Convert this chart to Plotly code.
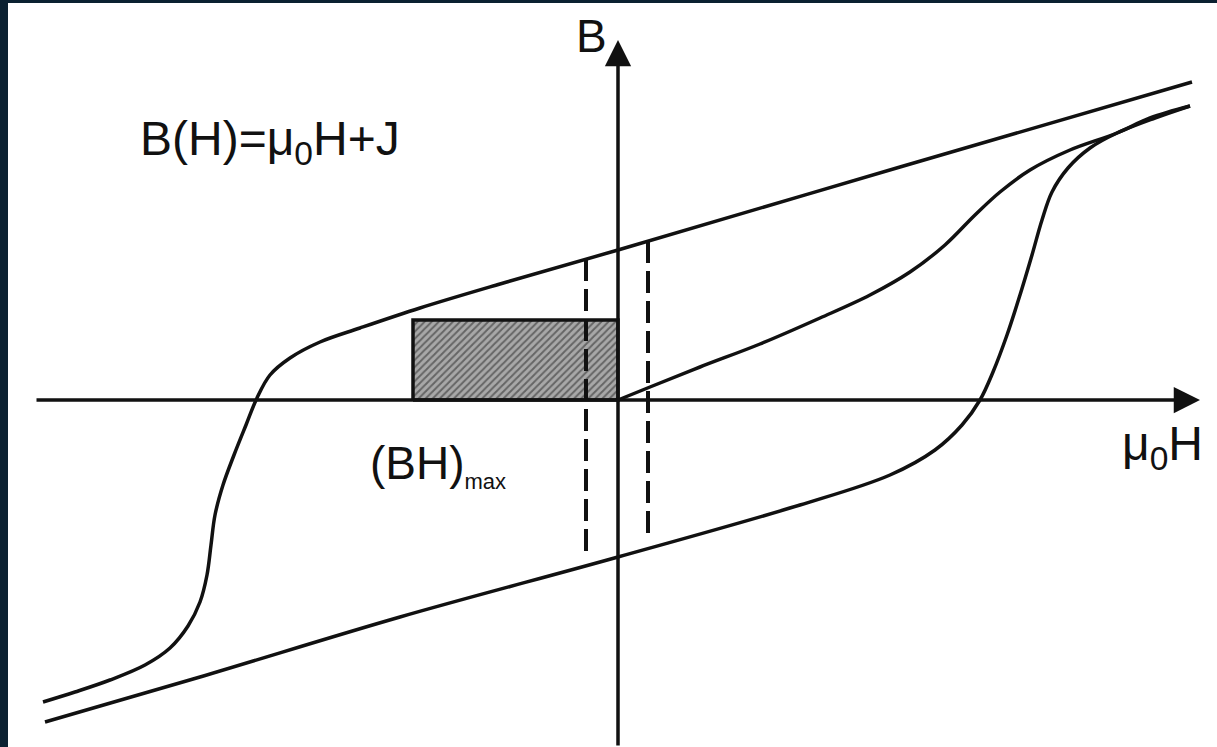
import plotly.graph_objects as go

# units: mu0*H along x, B along y (arbitrary units, origin at axis crossing)
upper_h = [5.74, 2.82, 0.0, -1.18, -1.98, -2.58, -2.98, -3.28, -3.48, -3.61, -3.72, -3.84,
           -3.95, -4.03, -4.07, -4.11, -4.18, -4.30, -4.48, -4.73, -5.08, -5.43, -5.75]
upper_b = [3.18, 2.33, 1.50, 1.16, 0.92, 0.72, 0.58, 0.42, 0.25, 0.02, -0.25, -0.55,
           -0.85, -1.15, -1.45, -1.75, -2.02, -2.26, -2.48, -2.65, -2.80, -2.92, -3.02]

lower_h = [-5.73, -4.18, -2.18, 0.0, 1.82, 2.72, 3.17, 3.44, 3.62, 3.75, 3.89,
           4.02, 4.14, 4.24, 4.34, 4.50, 4.72, 4.99, 5.37, 5.72]
lower_b = [-3.22, -2.77, -2.17, -1.57, -1.05, -0.75, -0.50, -0.25, 0.0, 0.28, 0.65,
           1.05, 1.45, 1.80, 2.08, 2.32, 2.52, 2.67, 2.82, 2.94]

virgin_h = [0.0, 0.32, 0.82, 1.42, 2.02, 2.52, 2.92, 3.27, 3.57, 3.82, 4.12, 4.52, 4.99, 5.32, 5.72]
virgin_b = [0.0, 0.13, 0.33, 0.56, 0.82, 1.05, 1.28, 1.55, 1.85, 2.08, 2.30, 2.50, 2.67, 2.82, 2.94]

# (BH)max working rectangle
rect_h = [-2.05, 0.0]
rect_b = [0.0, 0.80]

# dashed guide lines
dash_left_h, dash_left_b = -0.32, [1.41, -1.55]
dash_right_h, dash_right_b = 0.30, [1.59, -1.35]

x_axis_span = [-5.83, 5.82]
y_axis_span = [-3.47, 3.60]

ink = '#111111'
font = 'Liberation Sans, Arial, sans-serif'

fig = go.Figure()

# hatched rectangle
fig.add_trace(go.Scatter(
    x=[rect_h[0], rect_h[1], rect_h[1], rect_h[0], rect_h[0]],
    y=[rect_b[0], rect_b[0], rect_b[1], rect_b[1], rect_b[0]],
    mode='lines', fill='toself',
    fillcolor='#a0a0a0',
    fillpattern=dict(shape='/', fgcolor='#222222', bgcolor='#a8a8a8', size=5, solidity=0.4),
    line=dict(color=ink, width=3.5)
))

for hh, bb in [(upper_h, upper_b), (lower_h, lower_b), (virgin_h, virgin_b)]:
    fig.add_trace(go.Scatter(
        x=hh, y=bb, mode='lines',
        line=dict(color=ink, width=3.5, shape='spline', smoothing=1.0)
    ))

for xh, bb in [(dash_left_h, dash_left_b), (dash_right_h, dash_right_b)]:
    fig.add_trace(go.Scatter(
        x=[xh, xh], y=bb, mode='lines',
        line=dict(color=ink, width=4, dash='22px,8px')
    ))

# axes with arrows
fig.add_annotation(x=x_axis_span[1], y=0, ax=x_axis_span[0], ay=0,
                   xref='x', yref='y', axref='x', ayref='y', text='',
                   showarrow=True, arrowhead=2, arrowsize=1.5, arrowwidth=3.5, arrowcolor=ink)
fig.add_annotation(x=0, y=y_axis_span[1], ax=0, ay=y_axis_span[0],
                   xref='x', yref='y', axref='x', ayref='y', text='',
                   showarrow=True, arrowhead=2, arrowsize=1.5, arrowwidth=3.5, arrowcolor=ink)

labels = [
    (-4.80, 2.58, 'B(H)=μ<sub>0</sub>H+J', 48),
    (-0.44, 3.64, 'B', 46),
    (5.02, -0.47, 'μ<sub>0</sub>H', 48),
    (-2.50, -0.65, '(BH)<sub><span style="font-size:22px">max</span></sub>', 46),
]
for lx, ly, txt, size in labels:
    fig.add_annotation(x=lx, y=ly, text=txt, showarrow=False, xanchor='left', yanchor='middle',
                       font=dict(family=font, size=size, color=ink))

fig.update_layout(
    width=1217, height=747,
    margin=dict(l=8, r=0, t=3, b=0),
    paper_bgcolor='#0b2131',
    plot_bgcolor='white',
    showlegend=False,
    xaxis=dict(range=[-6.10, 5.99], visible=False, fixedrange=True),
    yaxis=dict(range=[-3.47, 3.97], visible=False, fixedrange=True),
)

fig.write_html('out.html', config={'displayModeBar': False},
               post_script="document.body.style.margin='0';")
